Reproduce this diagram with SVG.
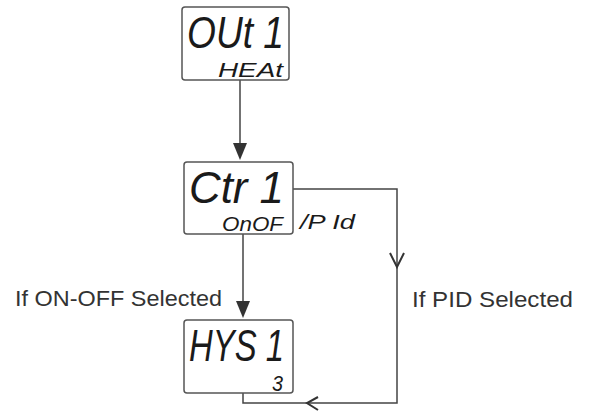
<svg xmlns="http://www.w3.org/2000/svg" width="593" height="412" viewBox="0 0 593 412">
<style>
.box{fill:#fff;stroke:#555;stroke-width:1.5}
.seg{font-family:"Liberation Sans",Arial,sans-serif;font-style:italic;fill:#1a1a1a}
.big{font-size:45px}
.small{font-size:21px}
.lbl{font-family:"Liberation Sans",Arial,sans-serif;font-size:22px;fill:#333}
.ln{fill:none;stroke:#444;stroke-width:1.5}
.head{fill:#333}
.chev{fill:none;stroke:#333;stroke-width:2}
</style>
<rect width="593" height="412" fill="#fff"/>
<g id="connectors">
<path class="ln" d="M240 80 V146"/>
<path class="head" d="M233 143 L247 143 L240 160 Z"/>
<path class="ln" d="M243 234 V304"/>
<path class="head" d="M236 301 L250 301 L243 318 Z"/>
<path class="ln" d="M293 189 H397 V403 H243 V393"/>
<path class="chev" d="M390 253 L397 267 L404 253"/>
<path class="chev" d="M318 397 L307 403 L318 410"/>
</g>
<g id="node-out1">
<rect class="box" x="182" y="7" width="107" height="73" rx="3"/>
<text class="seg big" x="187" y="48" textLength="97" lengthAdjust="spacingAndGlyphs">OUt 1</text>
<text class="seg small" x="218" y="77" textLength="65" lengthAdjust="spacingAndGlyphs">HEAt</text>
</g>
<g id="node-ctr1">
<rect class="box" x="184" y="162" width="109" height="72" rx="3"/>
<text class="seg big" x="189" y="203" textLength="95" lengthAdjust="spacingAndGlyphs">Ctr 1</text>
<text class="seg small" x="222" y="231" textLength="61" lengthAdjust="spacingAndGlyphs">OnOF</text>
<text class="seg small" x="300" y="229" textLength="55" lengthAdjust="spacingAndGlyphs">/P Id</text>
</g>
<g id="node-hys1">
<rect class="box" x="184" y="320" width="109" height="73" rx="3"/>
<text class="seg big" x="189" y="361" textLength="95" lengthAdjust="spacingAndGlyphs">HYS 1</text>
<text class="seg" x="272" y="391" font-size="22" textLength="11" lengthAdjust="spacingAndGlyphs">3</text>
</g>
<g id="labels">
<text class="lbl" x="15" y="306" textLength="207" lengthAdjust="spacingAndGlyphs">If ON-OFF Selected</text>
<text class="lbl" x="412" y="307" textLength="161" lengthAdjust="spacingAndGlyphs">If PID Selected</text>
</g>
</svg>
